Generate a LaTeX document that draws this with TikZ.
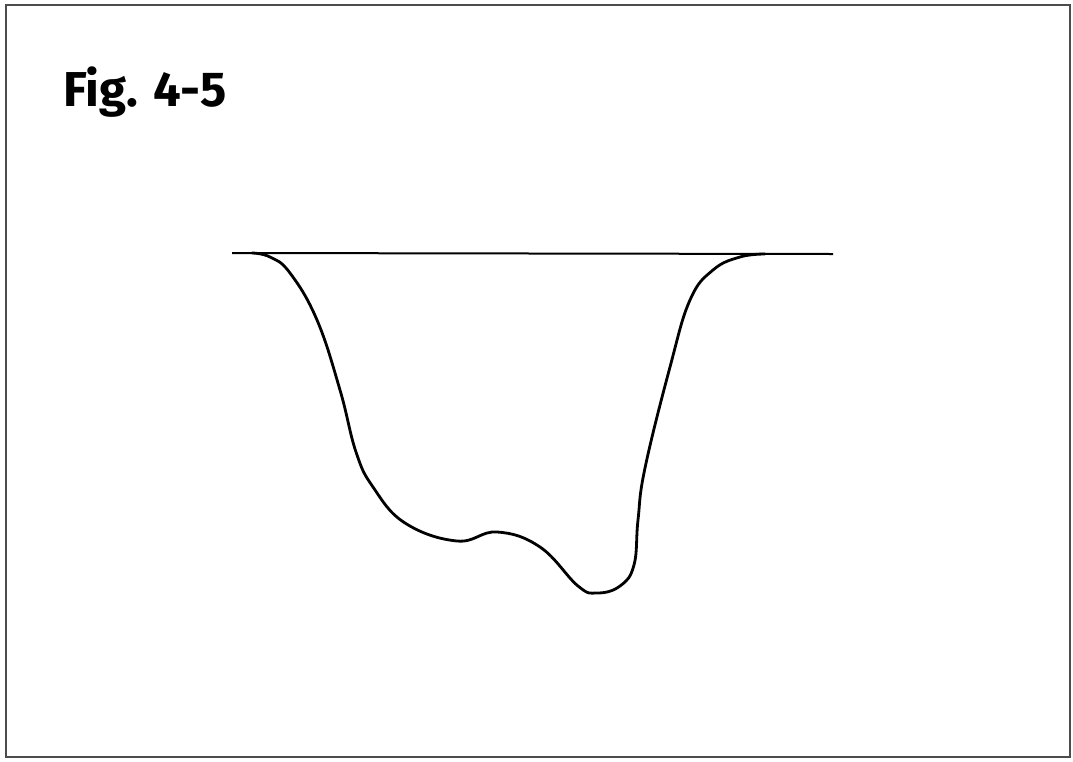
\documentclass[tikz,border=0pt]{standalone}
\usepackage{fontspec}
\newfontfamily\titlefont{Fira Sans}
\begin{document}
\begin{tikzpicture}[x=1pt,y=-1pt,
  framestyle/.style={draw=black!70,line width=2pt},
  curvestyle/.style={line width=2.8pt,line join=round,line cap=round},
  levelstyle/.style={line width=2pt}]
\useasboundingbox (0,0) rectangle (1073,761);
\draw[framestyle] (6,5) rectangle (1070,757);
\node[anchor=base west,inner sep=0pt,font=\titlefont\bfseries\fontsize{49}{54}\selectfont] (title) at (63,106) {Fig. 4-5};
\coordinate (lineL) at (232,253);
\coordinate (lineR) at (833,254);
\draw[levelstyle] (lineL) -- (lineR);
\draw[curvestyle] plot[smooth,tension=0.7] coordinates {
(252,253) (270,257) (290,273) (317,320) (340,390) (356,452) (373,487) (405,523) (457,541) (497,532) (540,547) (578,586) (597,593) (620,586) (634,565) (638,520) (645,468) (670,367) (690,300) (713,270) (740,257) (765,254)};
\end{tikzpicture}
\end{document}
